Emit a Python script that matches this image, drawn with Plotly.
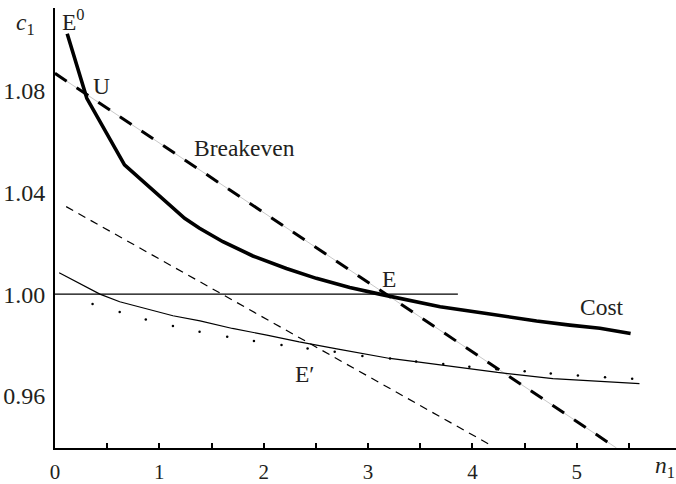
import plotly.graph_objects as go

# ---- data ----
cost_n = [0.117, 0.305, 0.666, 1.018, 1.242, 1.385, 1.609, 1.896, 2.217, 2.504,
          2.824, 3.11, 3.43, 3.69, 4.134, 4.614, 4.933, 5.221, 5.515]
cost_c = [1.1024, 1.0770, 1.0508, 1.0377, 1.0298, 1.0259, 1.0206, 1.0150, 1.0101, 1.0062,
          1.0026, 1.0000, 0.9972, 0.9950, 0.9924, 0.9894, 0.9878, 0.9866, 0.9845]

breakeven_n = [0.0, 5.38]
breakeven_c = [1.0868, 0.9395]

shifted_n = [0.107, 4.18]
shifted_c = [1.0344, 0.9405]

thin_n = [0.04, 0.43, 0.62, 0.91, 1.13, 1.39, 1.70, 2.03, 2.34, 2.70, 3.21, 3.49,
          3.72, 4.24, 4.77, 5.60]
thin_c = [1.0084, 1.0000, 0.9970, 0.9937, 0.9915, 0.9895, 0.9865, 0.9839, 0.9812,
          0.9785, 0.9747, 0.9733, 0.9720, 0.9692, 0.9668, 0.9648]

dot_n = [0.36, 0.62, 0.87, 1.13, 1.385, 1.65, 1.906, 2.17, 2.42, 2.68, 2.945, 3.21,
         3.46, 3.72, 3.97, 4.23, 4.50, 4.75, 5.01, 5.27, 5.53]
dot_c = [0.9961, 0.9930, 0.9900, 0.9875, 0.9852, 0.9832, 0.9816, 0.9800, 0.9786,
         0.9773, 0.9757, 0.9747, 0.9735, 0.9725, 0.9714, 0.9705, 0.9697, 0.9688,
         0.9680, 0.9673, 0.9667]

level_n = [0.0, 3.86]
level_c = [1.0, 1.0]

x_tickvals = [0, 1, 2, 3, 4, 5]
x_ticktext = ["0", "1", "2", "3", "4", "5"]
x_minor_tickvals = [0.5, 1.5, 2.5, 3.5, 4.5, 5.5]
y_tickvals = [0.96, 1.00, 1.04, 1.08]
y_ticktext = ["0.96", "1.00", "1.04", "1.08"]

FONT = "Liberation Serif, Times New Roman, serif"
INK = "#231f20"

fig = go.Figure()

fig.add_trace(go.Scatter(x=level_n, y=level_c, mode="lines",
                         line=dict(color="black", width=1.3), hoverinfo="skip"))
fig.add_trace(go.Scatter(x=breakeven_n, y=breakeven_c, mode="lines",
                         line=dict(color="#c8c8c8", width=1), hoverinfo="skip"))
fig.add_trace(go.Scatter(x=breakeven_n, y=breakeven_c, mode="lines",
                         line=dict(color="black", width=3, dash="14px,12px"), hoverinfo="skip"))
fig.add_trace(go.Scatter(x=shifted_n, y=shifted_c, mode="lines",
                         line=dict(color="black", width=1.2, dash="8px,6px"), hoverinfo="skip"))
fig.add_trace(go.Scatter(x=thin_n, y=thin_c, mode="lines",
                         line=dict(color="black", width=1.2), hoverinfo="skip"))
fig.add_trace(go.Scatter(x=dot_n, y=dot_c, mode="markers",
                         marker=dict(color="black", size=2.5), hoverinfo="skip"))
fig.add_trace(go.Scatter(x=cost_n, y=cost_c, mode="lines",
                         line=dict(color="black", width=3.6), hoverinfo="skip"))

ann_font = dict(family=FONT, size=23.5, color=INK)
annotations = [
    dict(x=1.812, y=1.0574, text="Breakeven"),
    dict(x=5.245, y=0.9949, text="Cost"),
    dict(x=3.198, y=1.0059, text="E"),
    dict(x=2.392, y=0.9685, text="E′"),
    dict(x=0.446, y=1.0819, text="U"),
    dict(x=0.175, y=1.1079, text="E<sup>0</sup>"),
]
for a in annotations:
    a.update(xref="x", yref="y", showarrow=False, font=ann_font,
             xanchor="center", yanchor="middle")
annotations.append(dict(x=-0.047, y=0.963, xref="paper", yref="paper",
                        text="<i>c</i><sub>1</sub>", showarrow=False, font=ann_font,
                        xanchor="center", yanchor="middle"))
annotations.append(dict(x=0.982, y=0.0, xref="paper", yref="paper", yshift=-36,
                        text="<i>n</i><sub>1</sub>", showarrow=False, font=ann_font,
                        xanchor="center", yanchor="bottom"))

fig.update_layout(
    width=676, height=484,
    margin=dict(l=55, r=0, t=8, b=36, autoexpand=False),
    paper_bgcolor="white", plot_bgcolor="white",
    showlegend=False,
    annotations=annotations,
    font=dict(family=FONT, size=22, color=INK),
)
fig.update_xaxes(range=[0, 5.95], showgrid=False, zeroline=False, automargin=False,
                 showline=True, linecolor="black", linewidth=2.2,
                 ticks="inside", ticklen=5, tickwidth=1.5, tickcolor="black",
                 tickvals=x_tickvals, ticktext=x_ticktext, ticklabelstandoff=4,
                 minor=dict(tickvals=x_minor_tickvals, ticks="inside", ticklen=5,
                            tickwidth=1.5, tickcolor="black", showgrid=False),
                 tickfont=dict(family=FONT, size=21, color=INK))
fig.update_yaxes(range=[0.9395, 1.1125], showgrid=False, zeroline=False, automargin=False,
                 showline=True, linecolor="black", linewidth=1.7,
                 ticks="", tickvals=y_tickvals, ticktext=y_ticktext,
                 ticklabelstandoff=3,
                 tickfont=dict(family=FONT, size=24, color=INK))

fig.write_html("out.html", config={"displayModeBar": False},
               post_script="document.body.style.margin='0px';document.body.style.padding='0px';")
